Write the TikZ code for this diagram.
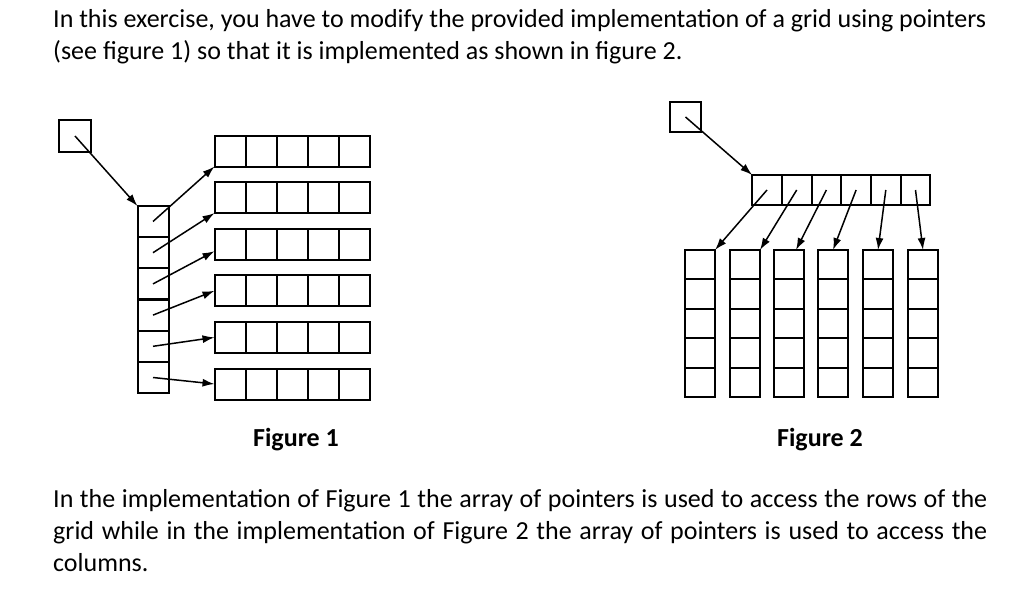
\documentclass[tikz,border=0pt]{standalone}
\usepackage{fontspec}
\setmainfont{Carlito}
\usetikzlibrary{arrows.meta}
\begin{document}
\begin{tikzpicture}[x=1pt,y=-1pt,
  cell/.style={draw,line width=2pt,minimum width=31pt,minimum height=31pt,inner sep=0pt,outer sep=0pt},
  ptr/.style={line width=1.5pt,-{Latex[length=12pt,width=8pt]}},
  txt/.style={font=\fontsize{26pt}{32pt}\selectfont,inner sep=0pt,anchor=north west}]
\useasboundingbox (0,0) rectangle (1024,591);
\fill[white] (0,0) rectangle (1024,591);
% text
\node[txt,align=left] (t1) at (53,9) {In this exercise, you have to modify the provided implementation of a grid using pointers\\(see figure 1) so that it is implemented as shown in figure 2.};
\node[txt,font=\fontsize{26pt}{32pt}\selectfont\bfseries,anchor=center] (f1) at (296,440) {Figure 1};
\node[txt,font=\fontsize{26pt}{32pt}\selectfont\bfseries,anchor=center] (f2) at (820,440) {Figure 2};
\node[txt,text width=934pt,align=justify] (t2) at (53,489) {In the implementation of Figure 1 the array of pointers is used to access the rows of the\linebreak grid while in the implementation of Figure 2 the array of pointers is used to access the\linebreak columns.};
% Figure 1
\node[cell,minimum width=32pt,minimum height=32pt] (p1) at (75,136) {};
\foreach \i in {0,...,5} {
  \node[cell] (c\i) at (153,{221.5+31.2*\i}) {};
  \foreach \j in {0,...,4} {
    \node[cell] (r\i-\j) at ({230+31*\j},{151+46.6*\i}) {};
  }
}
\draw[ptr] (p1.center) -- (c0.north west);
\coordinate (e0) at (r0-0.south west);
\coordinate (e1) at (r1-0.south west);
\coordinate (e2) at ([yshift=-7pt]r2-0.west);
\coordinate (e3) at (r3-0.west);
\coordinate (e4) at (r4-0.west);
\coordinate (e5) at (r5-0.west);
\foreach \i in {0,...,5} { \draw[ptr] (c\i.center) -- (e\i); }
% Figure 2
\node[cell,minimum width=31pt,minimum height=30pt] (p2) at (685.5,117) {};
\foreach \j in {0,...,5} {
  \node[cell,minimum width=29.7pt,minimum height=30pt] (a\j) at ({767+29.7*\j},190) {};
}
\draw[ptr] (p2.center) -- (a0.north west);
\foreach \j/\x in {0/685,1/730,2/774,3/818,4/863,5/908} {
  \foreach \k in {0,...,4} {
    \node[cell,minimum width=30pt,minimum height=29.4pt] (col\j-\k) at ({\x+15},{264.7+29.4*\k}) {};
  }
}
\coordinate (g0) at (col0-0.north east);
\coordinate (g1) at (col1-0.north east);
\coordinate (g2) at ([xshift=-8pt]col2-0.north east);
\coordinate (g3) at ([xshift=-15pt]col3-0.north east);
\coordinate (g4) at (col4-0.north);
\coordinate (g5) at (col5-0.north);
\foreach \j in {0,...,5} { \draw[ptr] (a\j.center) -- (g\j); }
\end{tikzpicture}
\end{document}
